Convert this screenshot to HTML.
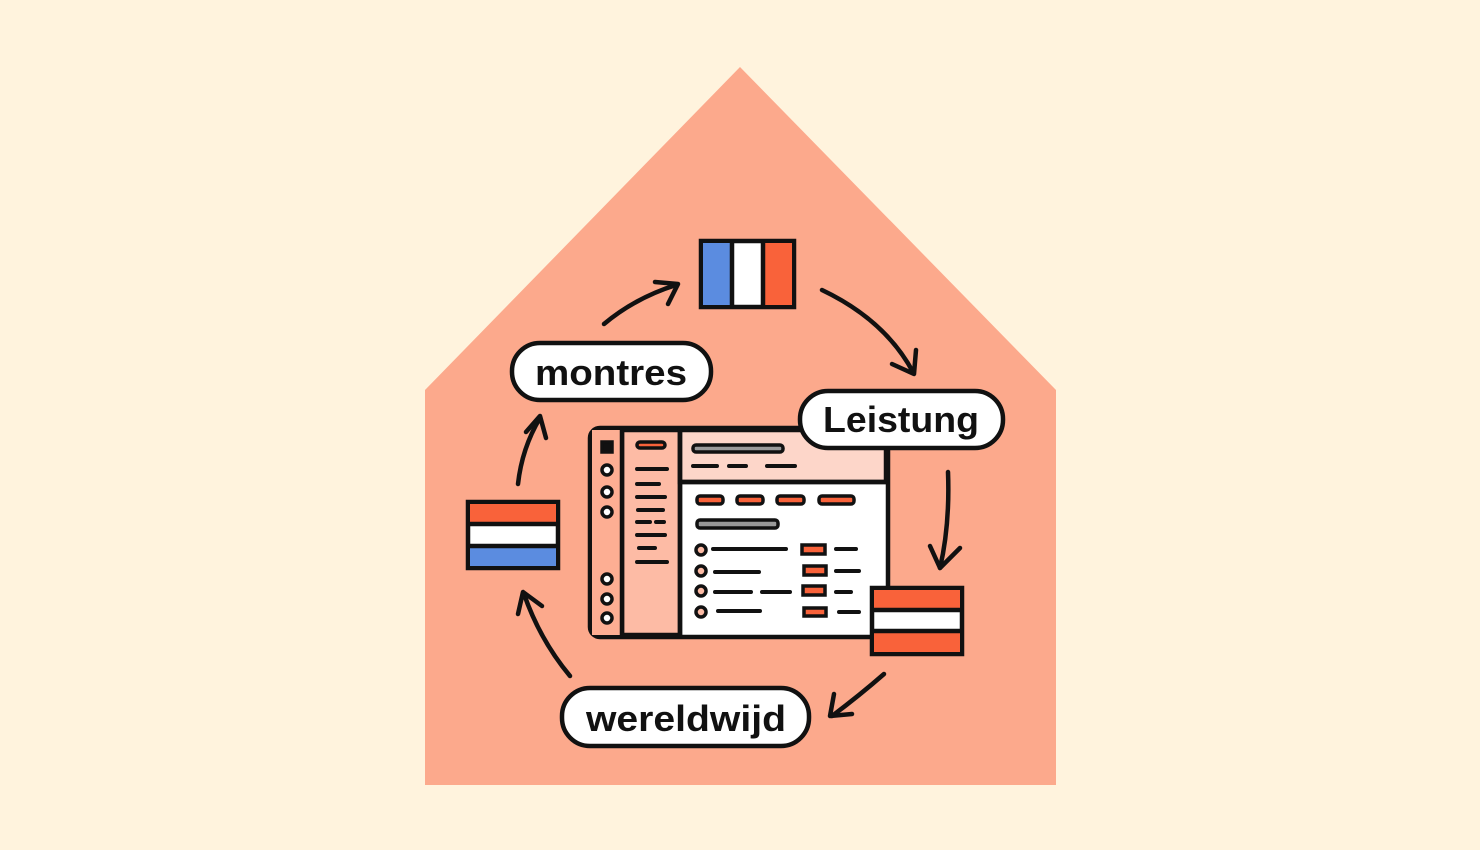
<!DOCTYPE html>
<html><head><meta charset="utf-8"><style>
html,body{margin:0;padding:0;background:#fff3dd;}
svg{display:block}
text{font-family:"Liberation Sans",sans-serif;font-weight:bold;fill:#111}
</style></head><body>
<svg width="1480" height="850" viewBox="0 0 1480 850" xmlns="http://www.w3.org/2000/svg">
<rect width="1480" height="850" fill="#fff3dd"/>
<polygon points="425,390 740,67 1056,390 1056,785 425,785" fill="#fca98c"/>
<g stroke="#111" stroke-width="4.5" fill="none" stroke-linecap="round" stroke-linejoin="round">
<path d="M604,324 Q635,298 676,285"/><path d="M655,282 L678,284 L668,304"/>
<path d="M822,290 Q885,320 913,372"/><path d="M892,364 L914,374 L916,350"/>
<path d="M948,472 Q950,525 940,568"/><path d="M930,546 L940,568 L960,548"/>
<path d="M884,674 Q860,695 832,716"/><path d="M834,694 L830,716 L852,714"/>
<path d="M570,676 Q540,640 524,594"/><path d="M518,614 L523,592 L542,606"/>
<path d="M518,484 Q522,448 540,418"/><path d="M526,432 L540,416 L546,438"/>
</g>
<g stroke="#111" stroke-width="4.5">
<rect x="590" y="428" width="298" height="209" rx="10" fill="#fff"/>
<rect x="622" y="430" width="58" height="205" fill="#fdbba5"/>
<rect x="680" y="430" width="206" height="52" fill="#fdd6c9"/>
<rect x="592" y="430" width="30" height="205" fill="#fdae93" stroke="none"/>
<line x1="622" y1="430" x2="622" y2="635"/>
</g>
<g stroke="#111" stroke-width="3.5" fill="#fff">
<rect x="602" y="442" width="10" height="10" fill="#111"/>
<circle cx="607" cy="470" r="5"/><circle cx="607" cy="492" r="5"/><circle cx="607" cy="512" r="5"/>
<circle cx="607" cy="579" r="5"/><circle cx="607" cy="599" r="5"/><circle cx="607" cy="618" r="5"/>
<circle cx="701" cy="550" r="5" fill="#fdbba5"/><circle cx="701" cy="571" r="5" fill="#fdbba5"/>
<circle cx="701" cy="591" r="5" fill="#fdbba5"/><circle cx="701" cy="612" r="5" fill="#fdbba5"/>
<rect x="637" y="442" width="28" height="6" rx="3" fill="#f9623a"/>
<rect x="693" y="445" width="90" height="7" rx="3" fill="#999"/>
<rect x="697" y="496" width="26" height="8" rx="3" fill="#f9623a"/>
<rect x="737" y="496" width="26" height="8" rx="3" fill="#f9623a"/>
<rect x="777" y="496" width="27" height="8" rx="3" fill="#f9623a"/>
<rect x="819" y="496" width="35" height="8" rx="3" fill="#f9623a"/>
<rect x="697" y="520" width="81" height="8" rx="3" fill="#999"/>
<rect x="802" y="545" width="23" height="9" fill="#f9623a"/>
<rect x="804" y="566" width="22" height="9" fill="#f9623a"/>
<rect x="803" y="586" width="22" height="9" fill="#f9623a"/>
<rect x="804" y="608" width="22" height="8" fill="#f9623a"/>
</g>
<g stroke="#111" stroke-width="4" stroke-linecap="round">
<path d="M637,469H667M637,484H659M637,497H665M638,510H663M637,522H650M656,522H664M637,535H665M639,548H655M637,562H667"/>
<path d="M693,466H717M729,466H746M767,466H795"/>
<path d="M713,549H786M715,572H759M715,592H751M762,592H790M718,611H760"/>
<path d="M836,549H856M836,571H859M836,592H851M839,612H859"/>
</g>
<line x1="680" y1="430" x2="680" y2="635" stroke="#111" stroke-width="4.5"/>
<line x1="680" y1="482" x2="886" y2="482" stroke="#111" stroke-width="4.5"/>
<g stroke="#111" stroke-width="4.5">
<rect x="701" y="241" width="93" height="66" fill="#fff"/>
<rect x="703" y="243" width="28" height="62" fill="#5b8ce0" stroke="none"/>
<rect x="764" y="243" width="28" height="62" fill="#f9623a" stroke="none"/>
<line x1="732" y1="243" x2="732" y2="305"/><line x1="763" y1="243" x2="763" y2="305"/>
<rect x="468" y="502" width="90" height="66" fill="#fff"/>
<rect x="470" y="504" width="86" height="19" fill="#f9623a" stroke="none"/>
<rect x="470" y="546" width="86" height="20" fill="#5b8ce0" stroke="none"/>
<line x1="470" y1="524" x2="556" y2="524"/><line x1="470" y1="546" x2="556" y2="546"/>
<rect x="872" y="588" width="90" height="66" fill="#fff"/>
<rect x="874" y="590" width="86" height="19" fill="#f9623a" stroke="none"/>
<rect x="874" y="631" width="86" height="21" fill="#f9623a" stroke="none"/>
<line x1="874" y1="610" x2="960" y2="610"/><line x1="874" y1="631" x2="960" y2="631"/>
</g>
<g stroke="#111" stroke-width="4.5" fill="#fff">
<rect x="512" y="343" width="199" height="57" rx="28"/>
<rect x="800" y="391" width="203" height="57" rx="28"/>
<rect x="562" y="688" width="247" height="58" rx="28"/>
</g>
<text x="611" y="385" font-size="36" text-anchor="middle" textLength="152" lengthAdjust="spacingAndGlyphs">montres</text>
<text x="901" y="432" font-size="36" text-anchor="middle" textLength="156" lengthAdjust="spacingAndGlyphs">Leistung</text>
<text x="686" y="731" font-size="36" text-anchor="middle" textLength="200" lengthAdjust="spacingAndGlyphs">wereldwijd</text>
</svg>
</body></html>
